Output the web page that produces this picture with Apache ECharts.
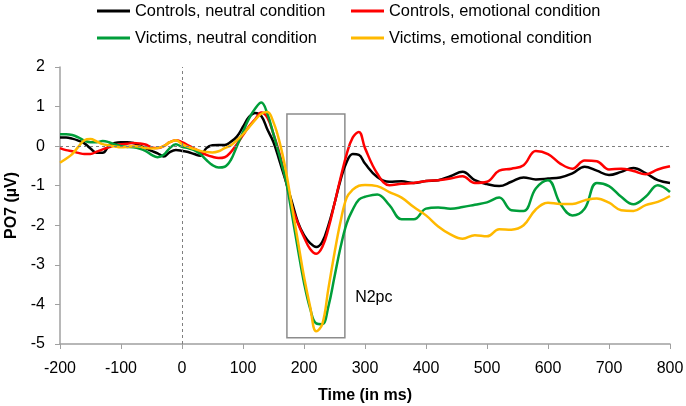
<!DOCTYPE html>
<html>
<head>
<meta charset="utf-8">
<script src="https://cdn.jsdelivr.net/npm/echarts@6/dist/echarts.min.js"></script>
<style>
  html, body { margin: 0; padding: 0; background: #fff; }
  #main { width: 686px; height: 406px; }
</style>
</head>
<body>
<div id="main"></div>
<script>
// time points (ms)
var times = [-200, -190, -180, -170, -160, -150, -140, -130, -120, -110,
    -100, -90, -80, -70, -60, -50, -40, -30, -20, -10,
    0, 10, 20, 30, 40, 50, 60, 70, 80, 90,
    100, 110, 120, 130, 140, 150, 160, 170, 180, 190,
    200, 210, 220, 230, 240, 250, 260, 270, 280, 290,
    300, 320, 340, 360, 380, 400, 420, 440, 460, 480,
    500, 520, 540, 560, 580, 600, 620, 640, 660, 680,
    700, 720, 740, 760, 780, 800];

var controlsNeutral = [0.22, 0.22, 0.19, 0.14, 0.07, -0.06, -0.17, -0.17, 0.0, 0.08,
    0.1, 0.1, 0.08, 0.02, -0.05, -0.12, -0.18, -0.26, -0.15, -0.1,
    -0.12, -0.15, -0.2, -0.24, -0.05, 0.02, 0.03, 0.03, 0.11, 0.24,
    0.49, 0.74, 0.84, 0.76, 0.42, 0.1, -0.38, -0.88, -1.4, -1.92,
    -2.25, -2.45, -2.55, -2.42, -2.0, -1.45, -0.85, -0.4, -0.2, -0.22,
    -0.44, -0.78, -0.9, -0.89, -0.93, -0.88, -0.86, -0.76, -0.65, -0.86,
    -0.96, -1.01, -0.9, -0.79, -0.84, -0.82, -0.79, -0.69, -0.52, -0.62,
    -0.73, -0.65, -0.55, -0.68, -0.86, -0.93];

var controlsEmotional = [-0.05, -0.1, -0.13, -0.17, -0.2, -0.2, -0.14, -0.08, -0.03, 0.02,
    0.05, 0.06, 0.08, 0.07, 0.04, -0.03, -0.05, 0.0, 0.1, 0.15,
    0.1, 0.02, -0.06, -0.14, -0.22, -0.27, -0.3, -0.28, -0.15, 0.05,
    0.28, 0.5, 0.68, 0.85, 0.72, 0.3, -0.2, -0.85, -1.5, -1.95,
    -2.3, -2.6, -2.72, -2.55, -2.08, -1.45, -0.8, -0.2, 0.22, 0.36,
    -0.05, -0.69, -0.99, -0.95, -0.93, -0.88, -0.86, -0.82, -0.76, -0.93,
    -0.9, -0.62, -0.57, -0.48, -0.12, -0.2, -0.44, -0.57, -0.36, -0.38,
    -0.59, -0.57, -0.63, -0.71, -0.59, -0.51];

var victimsNeutral = [0.3, 0.3, 0.28, 0.22, 0.14, 0.1, 0.1, 0.13, 0.1, 0.04,
    0.0, -0.02, -0.03, -0.06, -0.12, -0.22, -0.28, -0.22, -0.05, 0.05,
    -0.02, -0.05, -0.1, -0.2, -0.35, -0.48, -0.54, -0.52, -0.35, 0.0,
    0.36, 0.7, 0.95, 1.1, 0.82, 0.3, -0.25, -0.85, -1.7, -2.6,
    -3.45, -4.1, -4.48, -4.5, -4.05, -3.3, -2.55, -1.95, -1.6, -1.35,
    -1.28, -1.22, -1.49, -1.85, -1.85, -1.58, -1.55, -1.58, -1.54, -1.48,
    -1.42, -1.3, -1.62, -1.64, -1.07, -0.86, -1.45, -1.75, -1.58, -0.93,
    -1.01, -1.28, -1.47, -1.28, -0.99, -1.16];

var victimsEmotional = [-0.42, -0.32, -0.2, -0.02, 0.15, 0.18, 0.12, 0.05, 0.02, -0.01,
    -0.03, -0.02, 0.0, -0.01, -0.05, -0.06, -0.05, 0.0, 0.1, 0.15,
    0.05, -0.02, -0.07, -0.12, -0.15, -0.16, -0.13, -0.05, 0.02, 0.15,
    0.3, 0.48, 0.66, 0.82, 0.86, 0.6, 0.1, -0.6, -1.5, -2.4,
    -3.3, -4.05, -4.68, -4.5, -3.6, -2.7, -1.9, -1.3, -1.1, -1.0,
    -0.98, -1.01, -1.16, -1.3, -1.54, -1.75, -2.03, -2.23, -2.34, -2.25,
    -2.28, -2.1, -2.11, -2.0, -1.6, -1.43, -1.46, -1.46, -1.37, -1.32,
    -1.43, -1.62, -1.64, -1.49, -1.41, -1.26];

var seriesNames = ['Controls, neutral condition', 'Controls, emotional condition',
    'Victims, neutral condition', 'Victims, emotional condition'];
var seriesColors = ['#000000', '#ff0000', '#009e3a', '#ffb900'];

// N2pc window box (ms, µV)
var n2pcWindow = [172, 267];
var n2pcRange = [0.81, -4.84];

var myChart = echarts.init(document.getElementById('main'));

function pairs(values) {
    return times.map(function (t, i) { return [t, values[i]]; });
}

var font = 'Liberation Sans, Arial, sans-serif';

function lineSeries(idx, values) {
    return {
        name: seriesNames[idx],
        type: 'line',
        data: pairs(values),
        smooth: 0.4,
        symbol: 'none',
        lineStyle: { color: seriesColors[idx], width: 2.5 },
        itemStyle: { color: seriesColors[idx] },
        animation: false
    };
}

var series = [
    lineSeries(0, controlsNeutral),
    lineSeries(1, controlsEmotional),
    lineSeries(2, victimsNeutral),
    lineSeries(3, victimsEmotional)
];

// reference lines, the box and its label hang on the first series
series[0].markLine = {
    silent: true,
    symbol: ['none', 'none'],
    label: { show: false },
    lineStyle: { color: '#7f7f7f', type: [3, 3], width: 1 },
    data: [{ yAxis: 0 }, { xAxis: 0 }]
};
series[0].markArea = {
    silent: true,
    itemStyle: { color: 'rgba(0,0,0,0)', borderColor: '#8c8c8c', borderWidth: 1.5 },
    data: [[{ xAxis: n2pcWindow[0], yAxis: n2pcRange[0] }, { xAxis: n2pcWindow[1], yAxis: n2pcRange[1] }]]
};
series[0].markPoint = {
    silent: true,
    symbol: 'circle',
    symbolSize: 1,
    itemStyle: { color: 'rgba(0,0,0,0)' },
    label: {
        show: true, position: 'right', distance: 0, formatter: 'N2pc',
        color: '#000', fontSize: 16, fontFamily: font
    },
    data: [{ coord: [283, -3.82] }]
};

var legendCommon = {
    orient: 'vertical',
    top: -3,
    icon: 'rect',
    itemWidth: 33,
    itemHeight: 3,
    itemGap: 9,
    textStyle: { color: '#000', fontSize: 16.4, lineHeight: 18, fontFamily: font }
};

var option = {
    backgroundColor: '#fff',
    animation: false,
    legend: [
        Object.assign({ left: 92, data: [seriesNames[0], seriesNames[2]] }, legendCommon),
        Object.assign({ left: 346, data: [seriesNames[1], seriesNames[3]] }, legendCommon)
    ],
    grid: { left: 60, right: 16, top: 67, bottom: 62, outerBoundsMode: 'none', containLabel: false },
    xAxis: {
        type: 'value',
        min: -200,
        max: 800,
        interval: 100,
        name: 'Time (in ms)',
        nameLocation: 'middle',
        nameGap: 44,
        nameTextStyle: { color: '#000', fontSize: 16, fontWeight: 'bold', fontFamily: font },
        axisLine: { show: true, onZero: false, lineStyle: { color: '#a0a0a0', width: 1.5 } },
        axisTick: { show: true, length: 5, lineStyle: { color: '#a0a0a0' } },
        axisLabel: { color: '#000', fontSize: 16, margin: 17, fontFamily: font },
        splitLine: { show: false }
    },
    yAxis: {
        type: 'value',
        min: -5,
        max: 2,
        interval: 1,
        name: 'PO7 (µV)',
        nameLocation: 'middle',
        nameGap: 40,
        nameMoveOverlap: false,
        nameTextStyle: { color: '#000', fontSize: 16, fontWeight: 'bold', fontFamily: font },
        axisLine: { show: true, onZero: false, lineStyle: { color: '#a0a0a0', width: 1.5 } },
        axisTick: { show: true, length: 5, lineStyle: { color: '#a0a0a0' } },
        axisLabel: { color: '#000', fontSize: 16, margin: 15, fontFamily: font },
        splitLine: { show: false }
    },
    series: series
};

myChart.setOption(option);

window.onresize = function () {
    myChart.resize();
};
</script>
</body>
</html>
